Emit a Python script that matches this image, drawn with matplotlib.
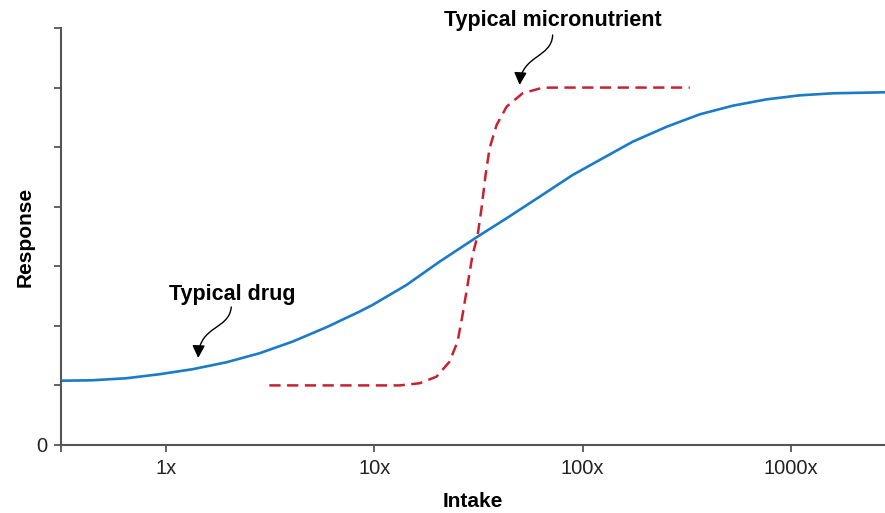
import matplotlib
matplotlib.use("Agg")
import matplotlib.pyplot as plt
from matplotlib.patches import FancyArrowPatch
from matplotlib.path import Path

plt.rcParams['font.family'] = ['Liberation Sans', 'DejaVu Sans']

# values (intake multiple, response in tick units)
drug_intake = [0.3126, 0.4407, 0.6424, 0.9255, 1.334, 1.943, 2.801, 4.035, 5.878,
               8.471, 9.781, 14.25, 20.54, 31.27, 43.12, 62.13, 89.51,
               174.0, 253.4, 365.2, 526.3, 766.7, 1105, 1592, 2831]
drug_resp = [1.079, 1.086, 1.120, 1.187, 1.271, 1.388, 1.539, 1.734, 1.976,
             2.238, 2.350, 2.686, 3.077, 3.497, 3.806, 4.168, 4.533,
             5.092, 5.343, 5.551, 5.696, 5.803, 5.870, 5.904, 5.921]

micro_intake = [3.127, 13.19, 16.46, 19.87, 22.94, 25.06, 26.49, 28.00, 29.59,
                31.27, 32.69, 34.17, 35.72, 38.60, 43.12, 51.46, 64.21, 77.51, 326.9]
micro_resp = [1.0, 1.0, 1.036, 1.147, 1.398, 1.734, 2.182, 2.686, 3.190,
              3.510, 3.979, 4.532, 4.981, 5.372, 5.679, 5.904, 5.998, 6.0, 6.0]

xticks = [1, 10, 100, 1000]
xlabels = ['1x', '10x', '100x', '1000x']
xmin, xmax = 0.3126, 2831
ymax = 7

fig = plt.figure(figsize=(8.85, 5.13), dpi=100)
ax = fig.add_axes([0.069, 0.1326, 0.931, 0.8128])

ax.plot(drug_intake, drug_resp, color='#1b7bc6', lw=1.9, solid_joinstyle='round')
ax.plot(micro_intake, micro_resp, color='#c82130', lw=1.8, dashes=(4.5, 2.6))

ax.set_xscale('log')
ax.set_xlim(xmin, xmax)
ax.set_ylim(0, ymax)
ax.set_xticks([xmin] + xticks)
ax.set_xticklabels([''] + xlabels)
ax.minorticks_off()
ax.set_yticks(range(ymax + 1))
ax.set_yticklabels(['0'] + [''] * ymax)

for s in ['top', 'right']:
    ax.spines[s].set_visible(False)
for s in ['left', 'bottom']:
    ax.spines[s].set_color('#555555')
    ax.spines[s].set_linewidth(1.5)
ax.tick_params(length=5, width=1.3, color='#555555', labelsize=14.5, pad=5,
               labelcolor='#222222')

ax.set_xlabel('Intake', fontsize=15, fontweight='bold', labelpad=10)
ax.set_ylabel('Response', fontsize=15, fontweight='bold', labelpad=1)


def curly_arrow(start, c1, c2, end):
    # S-shaped pointer from a label down to its curve
    p = Path([start, c1, c2, end],
             [Path.MOVETO, Path.CURVE4, Path.CURVE4, Path.CURVE4])
    ax.add_patch(FancyArrowPatch(path=p, arrowstyle='-|>', color='black',
                                 lw=1.0, mutation_scale=19,
                                 transform=ax.transData, clip_on=False))


ax.text(2.08, 2.52, 'Typical drug', fontsize=15.5, fontweight='bold',
        ha='center', va='center')
curly_arrow((2.053, 2.317), (2.009, 1.930), (1.441, 2.014), (1.425, 1.460))

ax.text(71.8, 7.13, 'Typical micronutrient', fontsize=15.5, fontweight='bold',
        ha='center', va='center', clip_on=False)
curly_arrow((71.76, 6.883), (70.96, 6.497), (50.9, 6.547), (49.8, 6.043))

fig.savefig('out.png', dpi=100)
